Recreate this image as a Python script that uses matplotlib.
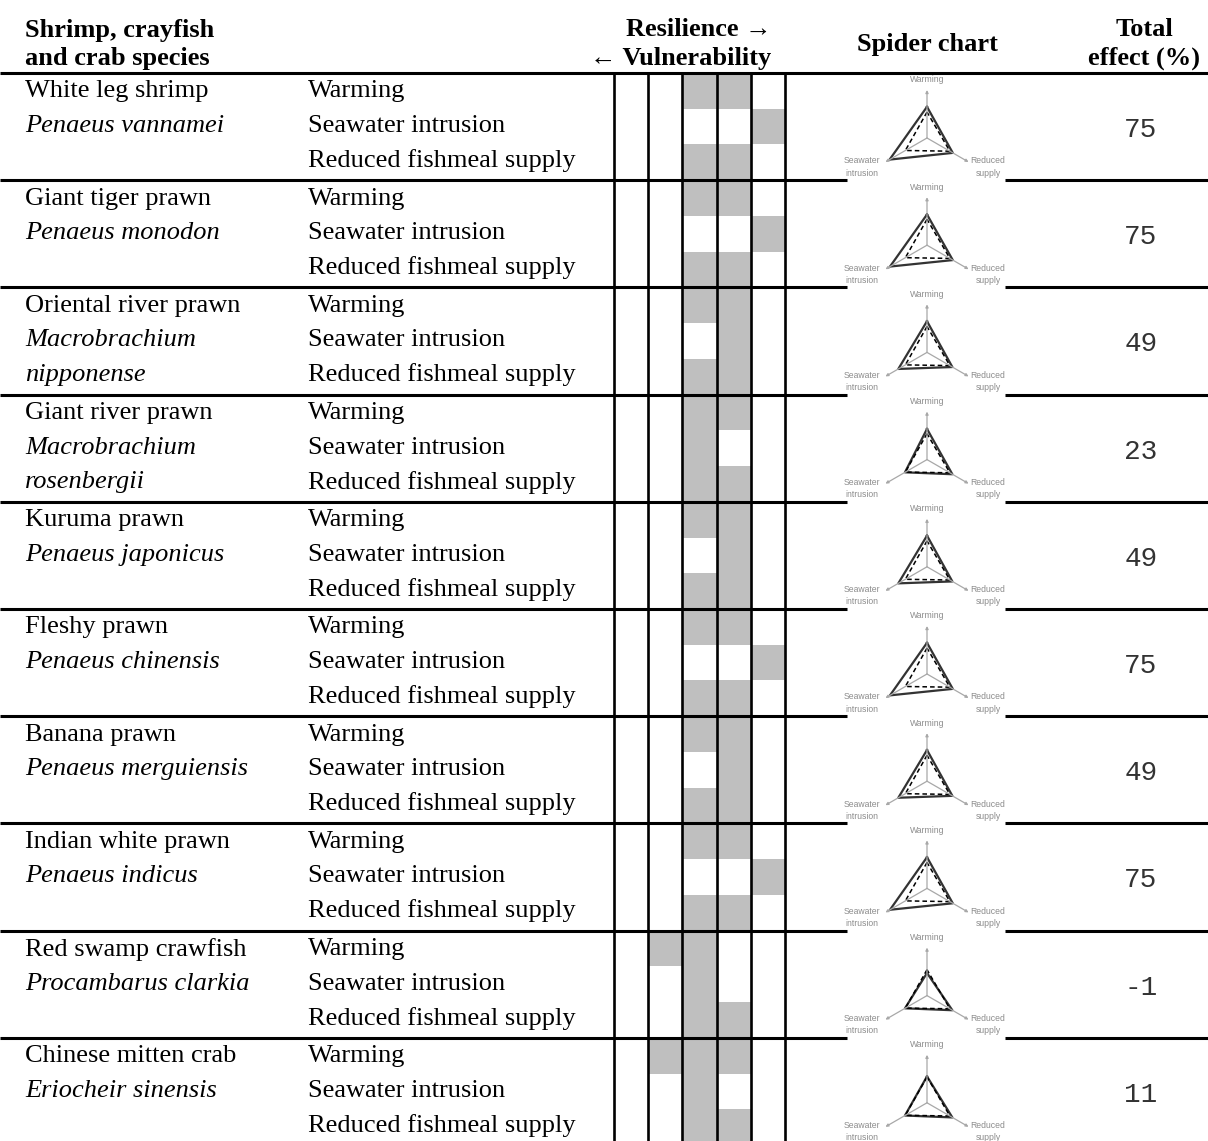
import numpy as np
import matplotlib.pyplot as plt
from matplotlib.patches import Rectangle

# species listed in the table
common = ["White leg shrimp", "Giant tiger prawn", "Oriental river prawn",
          "Giant river prawn", "Kuruma prawn", "Fleshy prawn", "Banana prawn",
          "Indian white prawn", "Red swamp crawfish", "Chinese mitten crab"]
latin = ["Penaeus vannamei", "Penaeus monodon", "Macrobrachium\nnipponense",
         "Macrobrachium\nrosenbergii", "Penaeus japonicus", "Penaeus chinensis",
         "Penaeus merguiensis", "Penaeus indicus", "Procambarus clarkia",
         "Eriocheir sinensis"]
stressors = ["Warming", "Seawater intrusion", "Reduced fishmeal supply"]

# shaded class range per stressor, 0 = most vulnerable ... 4 = most resilient
warm_lo = [2, 2, 2, 2, 2, 2, 2, 2, 1, 1]
warm_hi = [3, 3, 3, 3, 3, 3, 3, 3, 2, 3]
sea_lo = [4, 4, 3, 2, 3, 4, 3, 4, 2, 2]
sea_hi = [4, 4, 3, 2, 3, 4, 3, 4, 2, 2]
feed_lo = [2, 2, 2, 2, 2, 2, 2, 2, 2, 2]
feed_hi = [3, 3, 3, 3, 3, 3, 3, 3, 3, 3]

# spider chart radii (share of axis length): warming, seawater, reduced supply
spider_warm = [0.65, 0.64, 0.65, 0.64, 0.65, 0.65, 0.65, 0.65, 0.47, 0.55]
spider_sea = [0.90, 0.89, 0.69, 0.53, 0.69, 0.89, 0.69, 0.89, 0.53, 0.53]
spider_feed = [0.62, 0.62, 0.61, 0.61, 0.61, 0.62, 0.61, 0.62, 0.61, 0.61]
neutral = [0.54, 0.52, 0.55]

total_effect = [75, 75, 49, 23, 49, 75, 49, 75, -1, 11]

# page layout in pixels
W, H = 1208, 1141
top = 73
row_h = 107.2
col_edges = np.linspace(614, 785, 6)
box_l, box_r = 847, 1005
spi_x, spi_dy, spi_r = 927, 65, 48
grey = "#bfbfbf"
serif = ["Liberation Serif", "DejaVu Serif"]
sans = ["Liberation Sans", "DejaVu Sans"]

fig = plt.figure(figsize=(W / 100, H / 100), dpi=100)
ax = fig.add_axes([0, 0, 1, 1])
ax.set_xlim(0, W)
ax.set_ylim(H, 0)
ax.axis("off")

# header
hdr = dict(family=serif, fontsize=19, weight="bold", va="center")
ax.text(25, 30, "Shrimp, crayfish", **hdr)
ax.text(25, 58, "and crab species", **hdr)
ax.text(771, 30, "Resilience \u2192", ha="right", **hdr)
ax.text(771, 58, "\u2190 Vulnerability", ha="right", **hdr)
ax.text(spi_x, 44, "Spider chart", ha="center", **hdr)
ax.text(1144, 30, "Total", ha="center", **hdr)
ax.text(1144, 58, "effect (%)", ha="center", **hdr)
ax.hlines(top, 0, W, color="black", lw=2.2)

ranges = [(warm_lo, warm_hi), (sea_lo, sea_hi), (feed_lo, feed_hi)]
theta = np.radians([90, 210, 330])
lab = dict(family=sans, fontsize=6.2, color="#8c8c8c", ha="center", va="center")

for i in range(len(common)):
    y0 = top + i * row_h
    sub = row_h / 3

    # text columns
    ax.text(25, y0 + 18.5, common[i], family=serif, fontsize=19, va="center")
    for j, line in enumerate(latin[i].split("\n")):
        ax.text(25, y0 + 53 + j * 34.5, line, family=serif, fontsize=19,
                style="italic", va="center")
    for k, s in enumerate(stressors):
        ax.text(308, y0 + 18.5 + k * 34.5, s, family=serif, fontsize=19, va="center")

    # shaded class cells
    for k, (lo, hi) in enumerate(ranges):
        x0 = col_edges[lo[i]]
        x1 = col_edges[hi[i] + 1]
        ax.add_patch(Rectangle((x0, y0 + k * sub), x1 - x0, sub,
                               facecolor=grey, edgecolor="none", zorder=1))

    ax.text(1141, y0 + 57, str(total_effect[i]), family=["Liberation Mono", "DejaVu Sans Mono"],
            fontsize=20, color="#333333", va="center", ha="center")

    # row separator, broken by the spider panel
    if i > 0:
        ax.hlines(y0, 0, box_l, color="black", lw=2.2, zorder=3)
        ax.hlines(y0, box_r, W, color="black", lw=2.2, zorder=3)

    # spider chart
    cy = y0 + spi_dy
    pax = fig.add_axes([(spi_x - spi_r) / W, 1 - (cy + spi_r) / H,
                        2 * spi_r / W, 2 * spi_r / H], projection="polar")
    pax.set_ylim(0, 1)
    pax.set_axis_off()
    pax.patch.set_alpha(0)
    for th in theta:
        pax.annotate("", xy=(th, 1.0), xytext=(th, 0.0), annotation_clip=False,
                     arrowprops=dict(arrowstyle="-|>", color="#a8a8a8", lw=0.9,
                                     mutation_scale=4, shrinkA=0, shrinkB=0))
    vals = [spider_warm[i], spider_sea[i], spider_feed[i]]
    pax.plot(np.append(theta, theta[0]), vals + vals[:1], color="#333333", lw=1.6,
             clip_on=False)
    pax.plot(np.append(theta, theta[0]), neutral + neutral[:1], color="black", lw=1.1,
             ls=(0, (3, 2)), clip_on=False)

    ax.text(spi_x, cy - 58, "Warming", **lab)
    ax.text(862, cy + 29, "Seawater\nintrusion", linespacing=1.45, **lab)
    ax.text(988, cy + 29, "Reduced\nsupply", linespacing=1.45, **lab)

# class grid
ax.vlines(col_edges, top, H, color="black", lw=1.9, zorder=3)

fig.savefig("out.png", dpi=100)
